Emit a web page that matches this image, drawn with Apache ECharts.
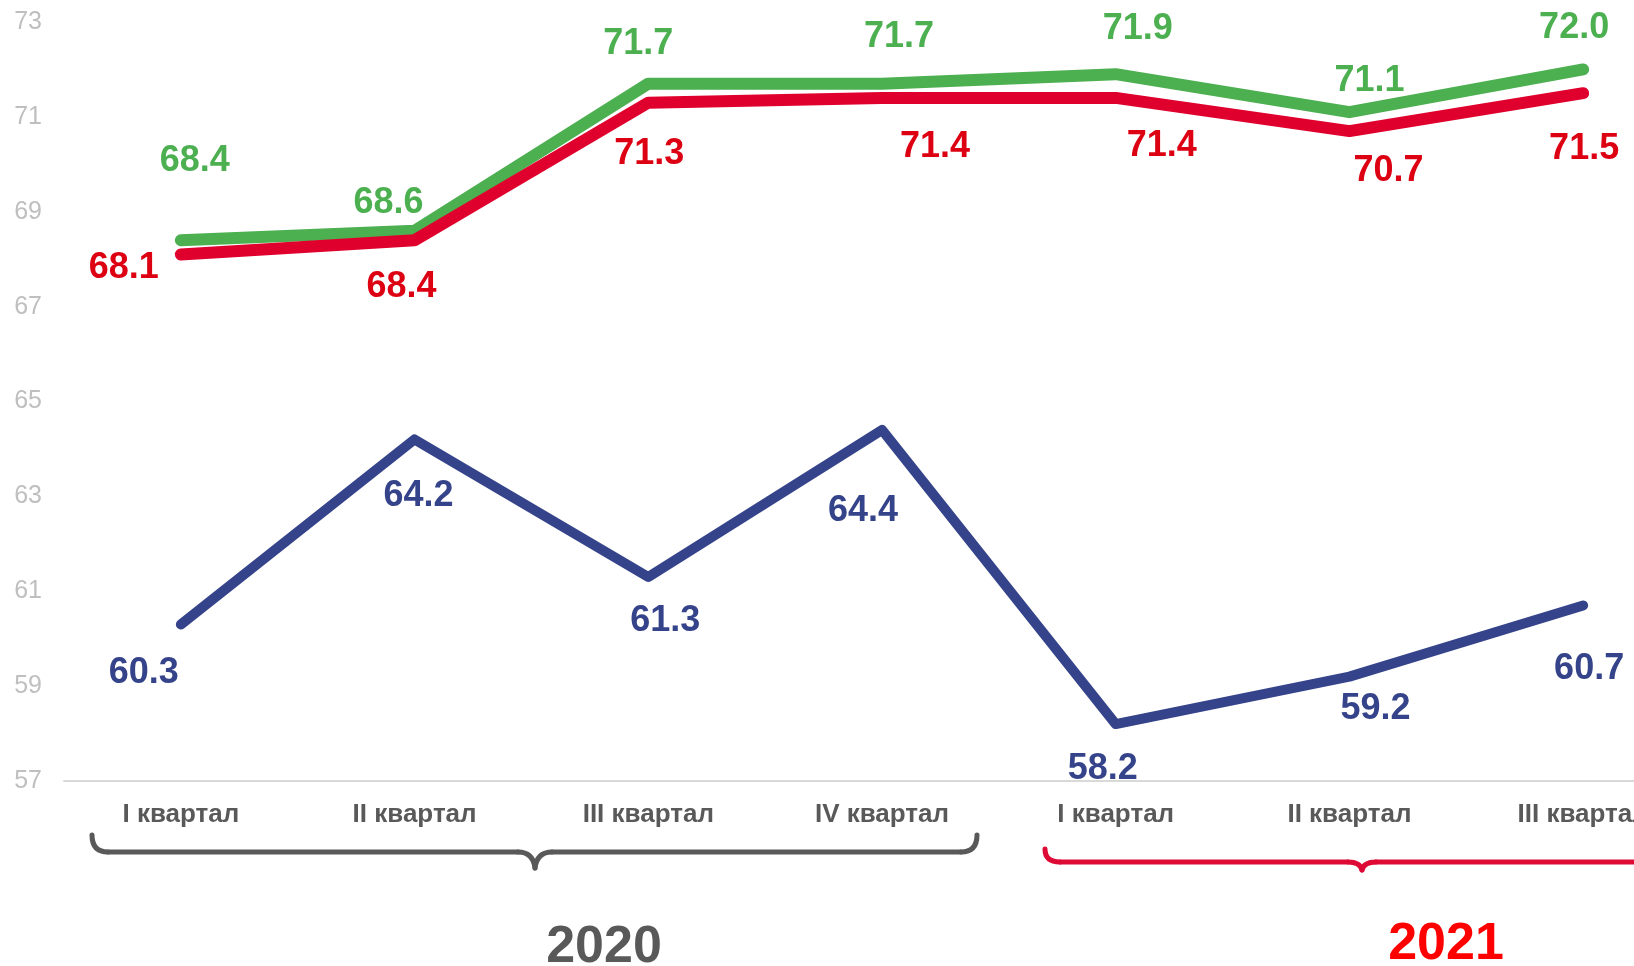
<!DOCTYPE html>
<html>
<head>
<meta charset="utf-8">
<script src="https://cdn.jsdelivr.net/npm/echarts@6/dist/echarts.min.js"></script>
<style>
  html, body { margin: 0; padding: 0; background: #ffffff; }
  #chart { width: 1634px; height: 966px; }
</style>
</head>
<body>
<div id="chart"></div>
<script>
// ---- data ----
const categories = ['I квартал', 'II квартал', 'III квартал', 'IV квартал', 'I квартал', 'II квартал', 'III квартал'];
const greenValues = [68.4, 68.6, 71.7, 71.7, 71.9, 71.1, 72.0];
const redValues   = [68.1, 68.4, 71.3, 71.4, 71.4, 70.7, 71.5];
const blueValues  = [60.3, 64.2, 61.3, 64.4, 58.2, 59.2, 60.7];
const yTicks = [57, 59, 61, 63, 65, 67, 69, 71, 73];
const years = ['2020', '2021'];

// ---- label placement (offsets from the point, px) ----
const greenOffsets = [[14, -79], [-26, -28], [-10, -40], [17, -47], [22, -45], [20, -31], [-9, -41]];
const redOffsets   = [[-57, 14], [-13, 47], [1, 51], [53, 49], [46, 48], [39, 40], [1, 56]];
const blueOffsets  = [[-37, 49], [4, 57], [17, 44], [-19, 81], [-13, 45], [26, 32], [6, 64]];

const FONT = '"Liberation Sans", Arial, sans-serif';

function makeSeries(name, values, offsets, lineColor, labelColor, width) {
  return {
    name: name,
    type: 'line',
    data: values.map((v, i) => ({ value: v, label: { offset: offsets[i] } })),
    symbol: 'circle',
    symbolSize: 2,
    showSymbol: true,
    itemStyle: { color: lineColor },
    lineStyle: { color: lineColor, width: width, cap: 'round', join: 'round' },
    label: {
      show: true,
      position: 'inside',
      color: labelColor,
      fontFamily: FONT,
      fontWeight: 'bold',
      fontSize: 36,
      formatter: p => Number(p.value).toFixed(1)
    },
    emphasis: { disabled: true },
    silent: true
  };
}

function brace(pts, color) {
  return pts.map(s => {
    if (s[0] === 'l') {
      return { type: 'line', shape: { x1: s[1], y1: s[2], x2: s[3], y2: s[4] },
        style: { stroke: color, lineWidth: 5, lineCap: 'round' }, silent: true };
    }
    return { type: 'bezierCurve', shape: { x1: s[1], y1: s[2], cpx1: s[3], cpy1: s[4], x2: s[5], y2: s[6] },
      style: { stroke: color, fill: null, lineWidth: 5, lineCap: 'round' }, silent: true };
  });
}

const grayBrace = brace([
  ['q', 92, 835, 92, 852, 108, 852],
  ['l', 108, 852, 518, 852],
  ['q', 518, 852, 533, 852, 535, 868],
  ['q', 535, 868, 537, 852, 552, 852],
  ['l', 552, 852, 961, 852],
  ['q', 961, 852, 977, 852, 977, 835]
], '#595959');

const redBrace = brace([
  ['q', 1045, 849, 1045, 862, 1060, 862],
  ['l', 1060, 862, 1348, 862],
  ['q', 1348, 862, 1360, 862, 1362, 870],
  ['q', 1362, 870, 1364, 862, 1376, 862],
  ['l', 1376, 862, 1650, 862]
], '#DD0A35');

const chart = echarts.init(document.getElementById('chart'));
chart.setOption({
  animation: false,
  backgroundColor: '#ffffff',
  grid: { left: 64, top: 22, width: 1636, height: 759, containLabel: false, outerBoundsMode: 'none' },
  xAxis: {
    type: 'category',
    data: categories,
    boundaryGap: true,
    axisLine: { show: true, lineStyle: { color: '#D9D9D9', width: 2 } },
    axisTick: { show: false },
    splitLine: { show: false },
    axisLabel: {
      interval: 0,
      margin: 21,
      color: '#595959',
      fontFamily: FONT,
      fontWeight: 'bold',
      fontSize: 26
    }
  },
  yAxis: {
    type: 'value',
    min: 57,
    max: 73,
    axisLine: { show: false },
    axisTick: { show: false },
    splitLine: { show: false },
    axisLabel: {
      customValues: yTicks,
      margin: 22,
      color: '#BFBFBF',
      fontFamily: FONT,
      fontSize: 25
    }
  },
  series: [
    makeSeries('green', greenValues, greenOffsets, '#4CAF50', '#4CAF50', 12),
    makeSeries('red', redValues, redOffsets, '#E0002D', '#DC0012', 12),
    makeSeries('blue', blueValues, blueOffsets, '#35438A', '#35438A', 10)
  ],
  graphic: [
    ...grayBrace,
    ...redBrace,
    { type: 'text', silent: true,
      style: { text: years[0], x: 604, y: 948, textAlign: 'center', textVerticalAlign: 'middle',
               font: 'bold 52px ' + FONT, fill: '#595959' } },
    { type: 'text', silent: true,
      style: { text: years[1], x: 1446, y: 945, textAlign: 'center', textVerticalAlign: 'middle',
               font: 'bold 52px ' + FONT, fill: '#FF0000' } }
  ]
});
</script>
</body>
</html>
